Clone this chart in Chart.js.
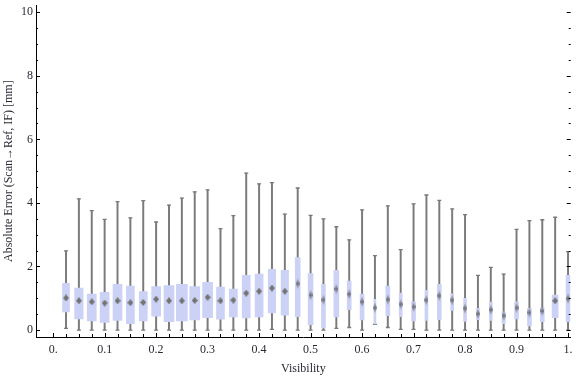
<!DOCTYPE html>
<html>
<head>
<meta charset="utf-8">
<script src="https://cdn.jsdelivr.net/npm/chart.js@4.4.1/dist/chart.umd.min.js"></script>
<style>
    html, body { margin: 0; padding: 0; background: #fff; }
    #wrap { width: 576px; height: 377px; }
</style>
</head>
<body>
<div id="wrap"><canvas id="chart"></canvas></div>
<script>
// box-whisker data, one entry per visibility bin
const visibility = [0.025, 0.05, 0.075, 0.1, 0.125, 0.15, 0.175, 0.2, 0.225, 0.25,
    0.275, 0.3, 0.325, 0.35, 0.375, 0.4, 0.425, 0.45, 0.475, 0.5,
    0.525, 0.55, 0.575, 0.6, 0.625, 0.65, 0.675, 0.7, 0.725, 0.75,
    0.775, 0.8, 0.825, 0.85, 0.875, 0.9, 0.925, 0.95, 0.975, 1.0];
const whiskerLow = [0.05, 0, 0, 0, 0, 0, 0, 0, 0, 0,
    0, 0, 0, 0, 0, 0, 0.02, 0, 0, 0,
    0, 0.05, 0.08, 0, 0.18, 0.08, 0.02, 0.02, 0, 0,
    0, 0, 0, 0, 0, 0, 0, 0, 0, 0];
const quart1 = [0.57, 0.35, 0.29, 0.24, 0.30, 0.20, 0.29, 0.44, 0.26, 0.29,
    0.32, 0.39, 0.34, 0.41, 0.38, 0.41, 0.54, 0.47, 0.42, 0.17,
    0.07, 0.41, 0.64, 0.32, 0.19, 0.45, 0.42, 0.29, 0.30, 0.33,
    0.62, 0.27, 0.33, 0.30, 0.20, 0.35, 0.13, 0.26, 0.39, 0.26];
const median = [1.01, 0.92, 0.89, 0.85, 0.92, 0.86, 0.87, 0.97, 0.92, 0.92,
    0.93, 1.03, 0.92, 0.94, 1.16, 1.22, 1.32, 1.22, 1.46, 1.10,
    0.95, 1.29, 1.13, 0.89, 0.70, 0.96, 0.81, 0.73, 0.94, 1.08,
    0.94, 0.68, 0.51, 0.64, 0.45, 0.70, 0.55, 0.60, 0.92, 0.99];
const quart3 = [1.47, 1.32, 1.13, 1.19, 1.44, 1.38, 1.21, 1.37, 1.40, 1.44,
    1.37, 1.50, 1.35, 1.29, 1.72, 1.76, 1.91, 1.88, 2.28, 1.78,
    1.44, 1.88, 1.54, 1.13, 0.97, 1.38, 1.16, 0.89, 1.25, 1.44,
    1.14, 1.00, 0.68, 0.88, 0.57, 0.89, 0.68, 0.70, 1.10, 1.72];
const whiskerHigh = [2.49, 4.13, 3.76, 3.48, 4.04, 3.53, 4.07, 3.40, 3.93, 4.15,
    4.35, 4.41, 3.19, 3.60, 4.94, 4.60, 4.64, 3.65, 4.47, 3.61,
    3.50, 3.25, 2.84, 3.78, 2.34, 3.91, 2.53, 3.97, 4.25, 4.08,
    3.81, 3.63, 1.72, 1.97, 1.76, 3.17, 3.44, 3.47, 3.55, 2.47];
// relative box width (sample share) per bin
const relWidth = [0.64, 0.77, 0.82, 0.82, 0.82, 0.73, 0.73, 0.82, 0.91, 1.0,
    0.91, 0.91, 0.73, 0.73, 0.73, 0.73, 0.68, 0.68, 0.45, 0.45,
    0.36, 0.45, 0.36, 0.36, 0.18, 0.36, 0.27, 0.36, 0.27, 0.36,
    0.27, 0.27, 0.27, 0.27, 0.3, 0.36, 0.36, 0.36, 0.55, 0.36];

const xTicks = [0, 0.1, 0.2, 0.3, 0.4, 0.5, 0.6, 0.7, 0.8, 0.9, 1.0];
const xTickLabels = ["0.", "0.1", "0.2", "0.3", "0.4", "0.5", "0.6", "0.7", "0.8", "0.9", "1."];
const yTicks = [0, 2, 4, 6, 8, 10];

const BOX_COLOR = "#CCD2F5";
const WHISKER_COLOR = "#7A7A7A";
const TEXT_COLOR = "#2a2a33";
const FONT = "'Liberation Serif', 'DejaVu Serif', serif";
const MAX_BOX_PX = 11;

function diamond(w, h, soft) {
    const c = document.createElement("canvas");
    c.width = w;
    c.height = h;
    const g = c.getContext("2d");
    g.beginPath();
    g.moveTo(w / 2, 0);
    g.lineTo(w, h / 2);
    g.lineTo(w / 2, h);
    g.lineTo(0, h / 2);
    g.closePath();
    if (soft) {
        const gr = g.createLinearGradient(0, 0, 0, h);
        gr.addColorStop(0, "rgba(120,120,130,0.1)");
        gr.addColorStop(0.5, "rgba(105,105,115,0.95)");
        gr.addColorStop(1, "rgba(120,120,130,0.1)");
        g.fillStyle = gr;
    } else {
        g.fillStyle = "#747474";
    }
    g.fill();
    return c;
}
const hardDiamond = diamond(6, 7, false);
const softDiamond = diamond(4, 12, true);

// boxes get their own widths after layout
const boxWidthPlugin = {
    id: "boxWidth",
    afterDatasetsUpdate(chart) {
        const meta = chart.getDatasetMeta(1);
        meta.data.forEach((el, i) => { el.width = relWidth[i] * MAX_BOX_PX; });
    }
};

// Mathematica-style inward frame ticks
const frameTicks = {
    id: "frameTicks",
    afterDraw(chart) {
        const {ctx, chartArea: a, scales: {x, y}} = chart;
        ctx.save();
        ctx.strokeStyle = "#000";
        ctx.lineWidth = 1;
        ctx.beginPath();
        for (let v = 0; v <= 10.001; v += 0.5) {
            const py = Math.round(y.getPixelForValue(v)) + 0.5;
            const len = yTicks.includes(Math.round(v * 10) / 10) ? 4 : 2;
            ctx.moveTo(a.left, py); ctx.lineTo(a.left + len, py);
            ctx.moveTo(a.right, py); ctx.lineTo(a.right - len, py);
        }
        for (let k = 0; k <= 40; k++) {
            const px = Math.round(x.getPixelForValue(k * 0.025)) + 0.5;
            const len = k % 4 === 0 ? 4 : 3;
            ctx.moveTo(px, a.bottom); ctx.lineTo(px, a.bottom - len);
        }
        ctx.stroke();
        ctx.restore();
    }
};

new Chart(document.getElementById("chart"), {
    type: "bar",
    data: {
        datasets: [
            {
                type: "scatter",
                data: visibility.map((v, i) => ({x: v, y: median[i]})),
                pointStyle: ctx => relWidth[ctx.dataIndex] * MAX_BOX_PX <= 5.5 ? softDiamond : hardDiamond,
                pointRadius: 3,
                backgroundColor: "#747474",
                borderWidth: 0
            },
            {
                data: visibility.map((v, i) => ({x: v, y: [quart1[i], quart3[i]]})),
                backgroundColor: BOX_COLOR,
                borderWidth: 0,
                grouped: false,
                barThickness: 8
            },
            {
                data: visibility.map((v, i) => ({x: v, y: [whiskerLow[i], whiskerHigh[i]]})),
                backgroundColor: WHISKER_COLOR,
                borderWidth: 0,
                grouped: false,
                barThickness: 1.3
            },
            {
                type: "scatter",
                data: visibility.flatMap((v, i) => [{x: v, y: whiskerLow[i]}, {x: v, y: whiskerHigh[i]}]),
                pointStyle: "line",
                pointRadius: 2,
                borderColor: WHISKER_COLOR,
                borderWidth: 1.3
            }
        ]
    },
    options: {
        responsive: true,
        maintainAspectRatio: false,
        animation: false,
        events: [],
        layout: {padding: {top: 4, right: 0, left: 0, bottom: 0}},
        plugins: {legend: {display: false}, tooltip: {enabled: false}},
        scales: {
            x: {
                type: "linear",
                offset: false,
                min: -0.0333,
                max: 1.0052,
                grid: {display: false, drawTicks: false},
                border: {display: true, color: "#000", width: 1},
                afterBuildTicks: s => { s.ticks = xTicks.map(v => ({value: v})); },
                afterFit: s => { s.height = 40; s.paddingLeft = 0; s.paddingRight = 0; },
                ticks: {
                    padding: 6,
                    color: TEXT_COLOR,
                    font: {family: FONT, size: 12},
                    maxRotation: 0,
                    callback: v => xTickLabels[xTicks.indexOf(Math.round(v * 10) / 10)]
                },
                title: {
                    display: true,
                    text: "Visibility",
                    color: TEXT_COLOR,
                    font: {family: FONT, size: 12},
                    padding: {top: 0, bottom: 1}
                }
            },
            y: {
                min: -0.219,
                max: 10.219,
                grid: {display: false, drawTicks: false},
                border: {display: true, color: "#000", width: 1},
                afterBuildTicks: s => { s.ticks = yTicks.map(v => ({value: v})); },
                afterFit: s => { s.width = 36; s.paddingTop = 0; s.paddingBottom = 0; },
                ticks: {
                    padding: 3,
                    color: TEXT_COLOR,
                    font: {family: FONT, size: 12}
                },
                title: {
                    display: true,
                    text: "Absolute Error (Scan→Ref, IF) [mm]",
                    color: TEXT_COLOR,
                    font: {family: FONT, size: 12},
                    padding: {top: 2, bottom: 0}
                }
            }
        }
    },
    plugins: [boxWidthPlugin, frameTicks]
});
</script>
</body>
</html>
